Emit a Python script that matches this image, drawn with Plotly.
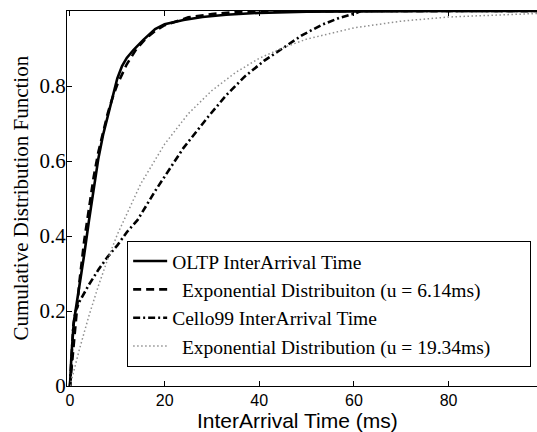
import plotly.graph_objects as go

# ---- data ----
oltp_x = [0, 0.3, 0.8, 1.3, 2, 3, 4, 5, 6, 7, 8, 9, 10, 11, 12, 13.4, 15.5, 18, 20, 24, 28, 33, 40, 50, 60, 80, 100]
oltp_y = [0, 0.08, 0.17, 0.21, 0.27, 0.35, 0.44, 0.53, 0.607, 0.67, 0.72, 0.775, 0.82, 0.853, 0.875, 0.896, 0.923, 0.952, 0.965, 0.976, 0.984, 0.99, 0.995, 0.998, 0.999, 1, 1]

exp1_x = [0, 1, 2, 3, 4, 5, 6, 7, 8, 9, 10, 12, 14, 16, 18, 20, 25, 30, 35, 40, 50, 60, 80, 100]
exp1_y = [0, 0.150, 0.278, 0.387, 0.479, 0.557, 0.624, 0.680, 0.728, 0.769, 0.804, 0.858, 0.898, 0.926, 0.947, 0.962, 0.983, 0.992, 0.997, 0.9985, 0.9997, 1, 1, 1]

cello_x = [0, 0.3, 0.7, 1.2, 2, 4, 6, 8, 10, 12, 14.3, 18, 21.4, 24, 27, 29.2, 33, 36.9, 41, 45.4, 49, 53.2, 57, 60.6, 61.5, 80, 100]
cello_y = [0, 0.08, 0.16, 0.20, 0.225, 0.27, 0.31, 0.345, 0.375, 0.41, 0.443, 0.52, 0.585, 0.635, 0.683, 0.718, 0.775, 0.825, 0.867, 0.905, 0.935, 0.963, 0.982, 0.995, 1, 1, 1]

exp2_x = [0, 2, 4, 6, 8, 10, 15, 20, 25, 30, 35, 40, 45, 50, 60, 70, 80, 90, 100]
exp2_y = [0, 0.098, 0.187, 0.267, 0.339, 0.404, 0.540, 0.645, 0.726, 0.788, 0.836, 0.874, 0.902, 0.925, 0.955, 0.973, 0.984, 0.990, 0.994]

names = [
    "OLTP InterArrival Time",
    "\u00a0\u00a0Exponential Distribuiton (u = 6.14ms)",
    "Cello99 InterArrival Time",
    "\u00a0\u00a0Exponential Distribution (u = 19.34ms)" + "\u00a0" * 7,
]

x_ticks = [0, 20, 40, 60, 80]
y_ticks = [0, 0.2, 0.4, 0.6, 0.8, 1]
y_ticktext = ["0", "0.2", "0.4", "0.6", "0.8", "1"]

SERIF = "Liberation Serif"
SANS = "Liberation Sans"

fig = go.Figure()
fig.add_trace(go.Scatter(x=oltp_x, y=oltp_y, mode="lines", name=names[0],
                         line=dict(color="black", width=2.6)))
fig.add_trace(go.Scatter(x=exp1_x, y=exp1_y, mode="lines", name=names[1],
                         line=dict(color="black", width=2.6, dash="8px,5px")))
fig.add_trace(go.Scatter(x=cello_x, y=cello_y, mode="lines", name=names[2],
                         line=dict(color="black", width=2.6, dash="7px,3px,2px,3px")))
fig.add_trace(go.Scatter(x=exp2_x, y=exp2_y, mode="lines", name=names[3],
                         line=dict(color="#8f8f8f", width=1.5, dash="1.5px,2.5px")))

fig.update_layout(
    width=537, height=432,
    margin=dict(l=67, r=0, t=11, b=46),
    paper_bgcolor="white", plot_bgcolor="white",
    showlegend=True,
    legend=dict(x=0.128, y=0.051, xanchor="left", yanchor="bottom",
                bgcolor="white", bordercolor="black", borderwidth=1,
                font=dict(family=SERIF, size=19.5, color="black"),
                itemwidth=34, tracegroupgap=0),
    xaxis=dict(range=[-0.63, 98.7], tickvals=x_ticks, ticks="inside", ticklen=5,
               tickcolor="black", showline=True, linecolor="black", linewidth=1,
               mirror="ticks", showgrid=False, zeroline=False,
               tickfont=dict(family=SANS, size=16, color="black")),
    yaxis=dict(range=[0, 1], tickvals=y_ticks, ticktext=y_ticktext, ticks="inside", ticklen=5,
               tickcolor="black", showline=True, linecolor="black", linewidth=1,
               mirror=False, showgrid=False, zeroline=False, ticklabelstandoff=-4,
               tickfont=dict(family=SERIF, size=21, color="black")),
    annotations=[
        dict(text="InterArrival Time (ms)", xref="paper", yref="paper",
             x=0.49, y=-0.091, xanchor="center", yanchor="middle", showarrow=False,
             font=dict(family=SANS, size=21, color="black")),
        dict(text="Cumulative Distribution Function", xref="paper", yref="paper",
             x=-0.1, y=0.5, xanchor="center", yanchor="middle", textangle=-90,
             showarrow=False, font=dict(family=SERIF, size=21, color="black")),
    ],
)

fig.write_html("out.html", config={"displayModeBar": False},
               post_script="document.body.style.margin='0';document.body.style.padding='0';")
